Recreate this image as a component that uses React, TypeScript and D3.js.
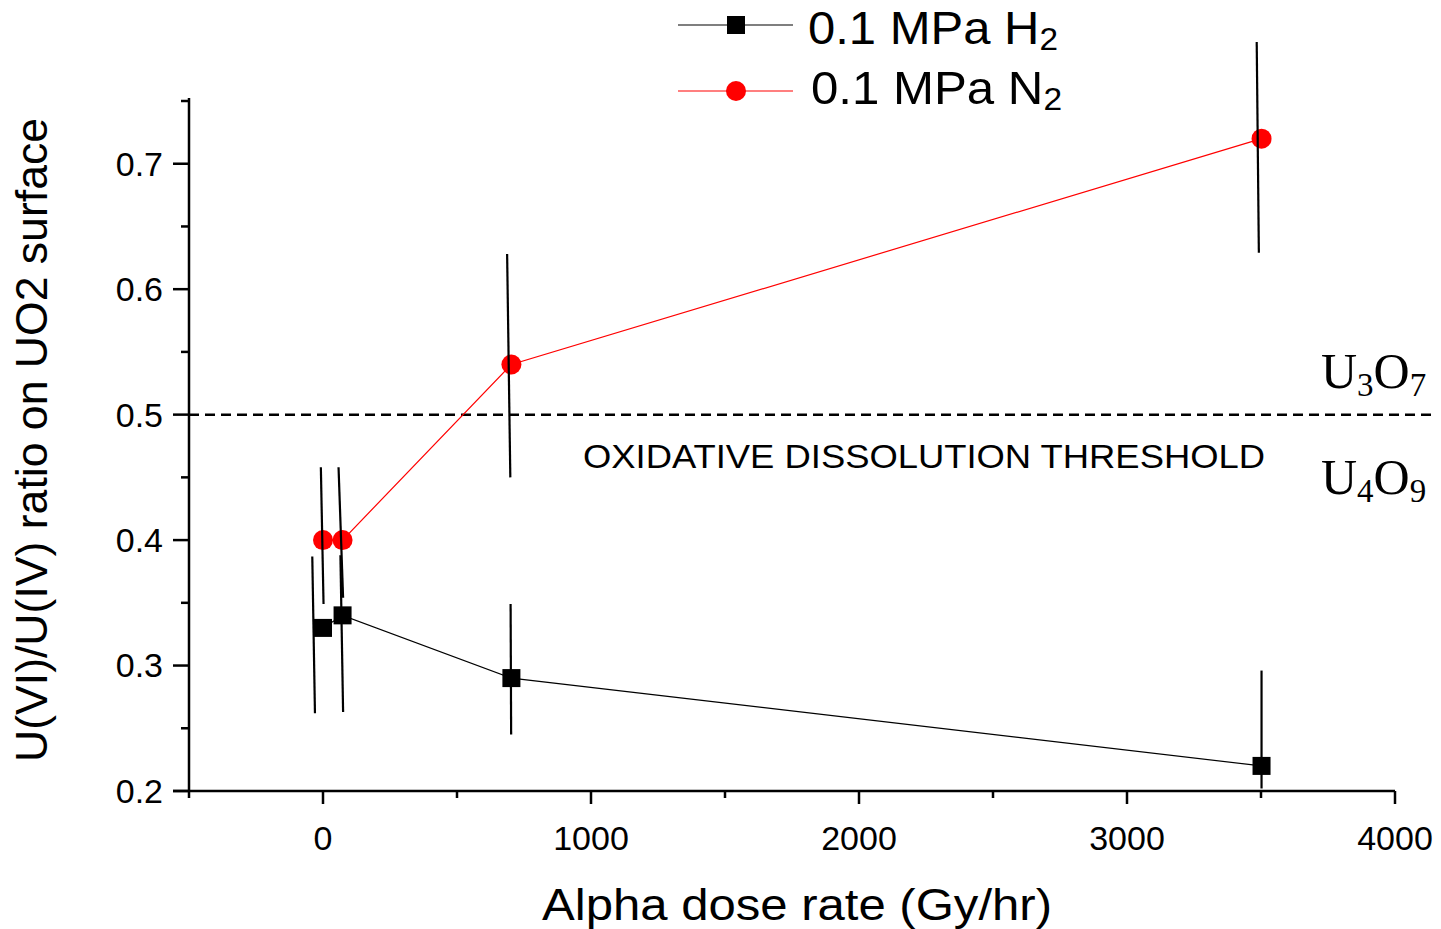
import React from 'react';
import * as d3 from 'd3';

// ---- data ----
const doseH2 = [0, 73, 703, 3502];
const ratioH2 = [0.33, 0.34, 0.29, 0.22];
const errHiH2 = [0.387, 0.388, 0.349, 0.296];
const errLoH2 = [0.262, 0.263, 0.245, 0.202];
const errXTopH2 = [-40, 65, 700, 3502];
const errXBotH2 = [-30, 75, 702, 3502];

const doseN2 = [0, 73, 703, 3502];
const ratioN2 = [0.4, 0.4, 0.54, 0.72];
const errHiN2 = [0.458, 0.458, 0.628, 0.797];
const errLoN2 = [0.349, 0.354, 0.45, 0.629];
const errXTopN2 = [-8, 58, 687, 3484];
const errXBotN2 = [2, 75, 699, 3492];

const xMajor = [0, 1000, 2000, 3000, 4000];
const xMinor = [500, 1500, 2500, 3500];
const yMajor = [0.2, 0.3, 0.4, 0.5, 0.6, 0.7];
const yMinor = [0.25, 0.35, 0.45, 0.55, 0.65, 0.75];
const threshold = 0.5;

const SANS = '"Liberation Sans", Arial, sans-serif';
const SERIF = '"Liberation Serif", "Times New Roman", serif';

export default function App() {
  const x = d3.scaleLinear().domain([-500, 4000]).range([189, 1395]);
  const y = d3.scaleLinear().domain([0.2, 0.75]).range([791, 101]);
  const line = d3.line<[number, number]>().x(d => x(d[0])).y(d => y(d[1]));
  const h2pts = doseH2.map((d, i) => [d, ratioH2[i]] as [number, number]);
  const n2pts = doseN2.map((d, i) => [d, ratioN2[i]] as [number, number]);
  const x0 = x(-500);
  const y0 = y(0.2);

  return (
    <svg width={1441} height={929} style={{ position: 'absolute', left: 0, top: 0, background: '#fff' }}>
      <rect width={1441} height={929} fill="#fff" />
      {/* threshold */}
      <line x1={x0} x2={1437} y1={y(threshold)} y2={y(threshold)} stroke="#000" strokeWidth={2.5} strokeDasharray="10,6" />

      {/* axes */}
      <line x1={x0} x2={x0} y1={y(0.75) - 3} y2={y0 + 7} stroke="#000" strokeWidth={2.5} />
      <line x1={x0 - 16} x2={x(4000)} y1={y0} y2={y0} stroke="#000" strokeWidth={2.5} />
      {yMajor.map(v => (
        <g key={'ym' + v}>
          <line x1={x0 - 16} x2={x0} y1={y(v)} y2={y(v)} stroke="#000" strokeWidth={2.5} />
          <text x={163} y={y(v)} dy="0.35em" textAnchor="end" fontFamily={SANS} fontSize={34}>{v.toFixed(1)}</text>
        </g>
      ))}
      {yMinor.map(v => (
        <line key={'yn' + v} x1={x0 - 8} x2={x0} y1={y(v)} y2={y(v)} stroke="#000" strokeWidth={2.5} />
      ))}
      {xMajor.map(v => (
        <g key={'xm' + v}>
          <line x1={x(v)} x2={x(v)} y1={y0} y2={y0 + 13} stroke="#000" strokeWidth={2.5} />
          <text x={x(v)} y={850} textAnchor="middle" fontFamily={SANS} fontSize={34}>{v}</text>
        </g>
      ))}
      {xMinor.map(v => (
        <line key={'xn' + v} x1={x(v)} x2={x(v)} y1={y0} y2={y0 + 7} stroke="#000" strokeWidth={2.5} />
      ))}

      {/* axis titles */}
      <text x={797} y={920} textAnchor="middle" fontFamily={SANS} fontSize={44} textLength={510} lengthAdjust="spacingAndGlyphs">Alpha dose rate (Gy/hr)</text>
      <text transform="translate(47,440) rotate(-90)" textAnchor="middle" fontFamily={SANS} fontSize={45} textLength={644} lengthAdjust="spacingAndGlyphs">U(VI)/U(IV) ratio on UO2 surface</text>

      {/* series lines */}
      <path d={line(h2pts) || ''} fill="none" stroke="#000" strokeWidth={1.2} />
      <path d={line(n2pts) || ''} fill="none" stroke="#ff0000" strokeWidth={1.2} />

      {/* markers */}
      {h2pts.map((p, i) => (
        <rect key={'hs' + i} x={x(p[0]) - 9} y={y(p[1]) - 9} width={18} height={18} fill="#000" />
      ))}
      {n2pts.map((p, i) => (
        <circle key={'nc' + i} cx={x(p[0])} cy={y(p[1])} r={10} fill="#ff0000" />
      ))}

      {/* error bars */}
      {doseH2.map((_, i) => (
        <line key={'he' + i} x1={x(errXTopH2[i])} x2={x(errXBotH2[i])} y1={y(errHiH2[i])} y2={y(errLoH2[i])} stroke="#000" strokeWidth={2.2} />
      ))}
      {doseN2.map((_, i) => (
        <line key={'ne' + i} x1={x(errXTopN2[i])} x2={x(errXBotN2[i])} y1={y(errHiN2[i])} y2={y(errLoN2[i])} stroke="#000" strokeWidth={2.2} />
      ))}

      {/* annotations */}
      <text x={583} y={468} fontFamily={SANS} fontSize={34} textLength={682} lengthAdjust="spacingAndGlyphs">OXIDATIVE DISSOLUTION THRESHOLD</text>
      <text x={1321} y={388} fontFamily={SERIF} fontSize={50}>
        U<tspan fontSize={33} dy={8}>3</tspan><tspan dy={-8}>O</tspan><tspan fontSize={33} dy={8}>7</tspan>
      </text>
      <text x={1321} y={494} fontFamily={SERIF} fontSize={50}>
        U<tspan fontSize={33} dy={8}>4</tspan><tspan dy={-8}>O</tspan><tspan fontSize={33} dy={8}>9</tspan>
      </text>

      {/* legend */}
      <line x1={678} x2={793} y1={25} y2={25} stroke="#000" strokeWidth={1.2} />
      <rect x={727} y={16} width={18} height={18} fill="#000" />
      <text x={808} y={44} fontFamily={SANS} fontSize={47} textLength={250} lengthAdjust="spacingAndGlyphs">0.1 MPa H<tspan fontSize={32} dy={6}>2</tspan></text>
      <line x1={678} x2={793} y1={91} y2={91} stroke="#ff0000" strokeWidth={1.2} />
      <circle cx={736} cy={91} r={10} fill="#ff0000" />
      <text x={811} y={104} fontFamily={SANS} fontSize={47} textLength={251} lengthAdjust="spacingAndGlyphs">0.1 MPa N<tspan fontSize={32} dy={6}>2</tspan></text>
    </svg>
  );
}
